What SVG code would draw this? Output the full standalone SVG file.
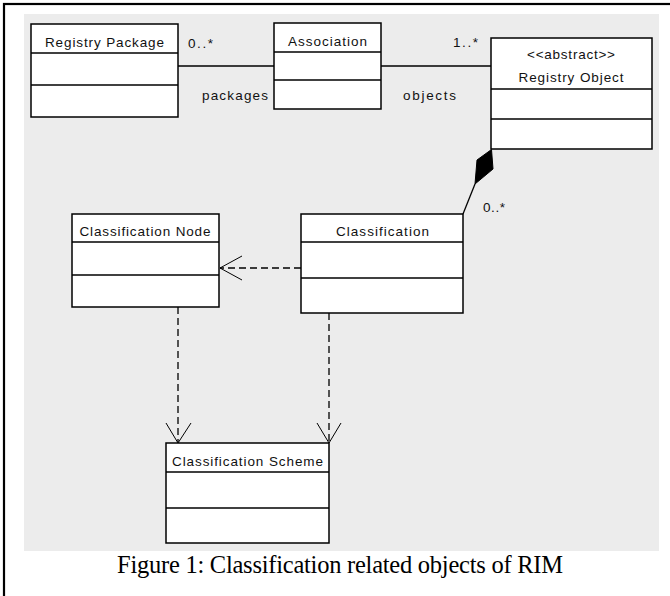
<svg xmlns="http://www.w3.org/2000/svg" width="670" height="596" viewBox="0 0 670 596">
<style>
.box{fill:#fff;stroke:#000;stroke-width:1.5}
.div{stroke:#000;stroke-width:1.3}
.t{font-family:"Liberation Sans",Arial,sans-serif;font-size:13.5px;fill:#111;text-anchor:middle}
.lbl{font-family:"Liberation Sans",Arial,sans-serif;font-size:13.5px;fill:#111}
.solid{fill:none;stroke:#000;stroke-width:1.3}
.dash{fill:none;stroke:#000;stroke-width:1.3;stroke-dasharray:7 4}
.arr{fill:none;stroke:#000;stroke-width:1}
</style>
<rect x="0" y="0" width="670" height="596" fill="#fff"/>
<rect x="4" y="4" width="700" height="640" fill="none" stroke="#000" stroke-width="2.2"/>
<rect x="24" y="14" width="635" height="537" fill="#ececec"/>

<g id="connectors">
  <line class="solid" x1="178" y1="66" x2="491" y2="66"/>
  <text class="lbl" x="188" y="48" textLength="25">0..*</text>
  <text class="lbl" x="202" y="100" textLength="66">packages</text>
  <text class="lbl" x="453" y="47" textLength="25">1..*</text>
  <text class="lbl" x="403" y="100" textLength="53">objects</text>
  <line class="solid" x1="475" y1="184" x2="463" y2="214"/>
  <polygon points="491.5,149.5 493,169 475,184 477,160" fill="#000" stroke="#000" stroke-width="1"/>
  <text class="lbl" x="483" y="212" textLength="22">0..*</text>
  <line class="dash" x1="301" y1="268" x2="220" y2="268"/>
  <polyline class="arr" points="242,256 220,268 242,280"/>
  <line class="dash" x1="178" y1="307" x2="178" y2="442"/>
  <polyline class="arr" points="166,423 178,443 191,423"/>
  <line class="dash" x1="329" y1="313" x2="329" y2="442"/>
  <polyline class="arr" points="317,423 329,443 341,423"/>
</g>

<g id="registry-package">
  <rect class="box" x="31" y="24" width="147" height="93"/>
  <line class="div" x1="31" y1="53" x2="178" y2="53"/>
  <line class="div" x1="31" y1="85" x2="178" y2="85"/>
  <text class="t" x="104.5" y="47" textLength="119">Registry Package</text>
</g>

<g id="association">
  <rect class="box" x="274" y="23" width="107" height="86"/>
  <line class="div" x1="274" y1="52" x2="381" y2="52"/>
  <line class="div" x1="274" y1="80" x2="381" y2="80"/>
  <text class="t" x="327.5" y="46" textLength="79">Association</text>
</g>

<g id="registry-object">
  <rect class="box" x="491" y="38" width="161" height="111"/>
  <line class="div" x1="491" y1="89" x2="652" y2="89"/>
  <line class="div" x1="491" y1="119" x2="652" y2="119"/>
  <text class="t" x="571" y="59" textLength="88">&lt;&lt;abstract&gt;&gt;</text>
  <text class="t" x="571" y="82" textLength="105">Registry Object</text>
</g>

<g id="classification-node">
  <rect class="box" x="72" y="214" width="147" height="93"/>
  <line class="div" x1="72" y1="242" x2="219" y2="242"/>
  <line class="div" x1="72" y1="275" x2="219" y2="275"/>
  <text class="t" x="145" y="236" textLength="131">Classification Node</text>
</g>

<g id="classification">
  <rect class="box" x="301" y="214" width="162" height="99"/>
  <line class="div" x1="301" y1="242" x2="463" y2="242"/>
  <line class="div" x1="301" y1="278" x2="463" y2="278"/>
  <text class="t" x="382.5" y="236" textLength="93">Classification</text>
</g>

<g id="classification-scheme">
  <rect class="box" x="166" y="443" width="163" height="100"/>
  <line class="div" x1="166" y1="472" x2="329" y2="472"/>
  <line class="div" x1="166" y1="508" x2="329" y2="508"/>
  <text class="t" x="247.5" y="466" textLength="151">Classification Scheme</text>
</g>

<text x="340" y="573" font-family="'Liberation Serif','Times New Roman',serif" font-size="24.5" text-anchor="middle" fill="#000" textLength="446">Figure 1: Classification related objects of RIM</text>
</svg>
